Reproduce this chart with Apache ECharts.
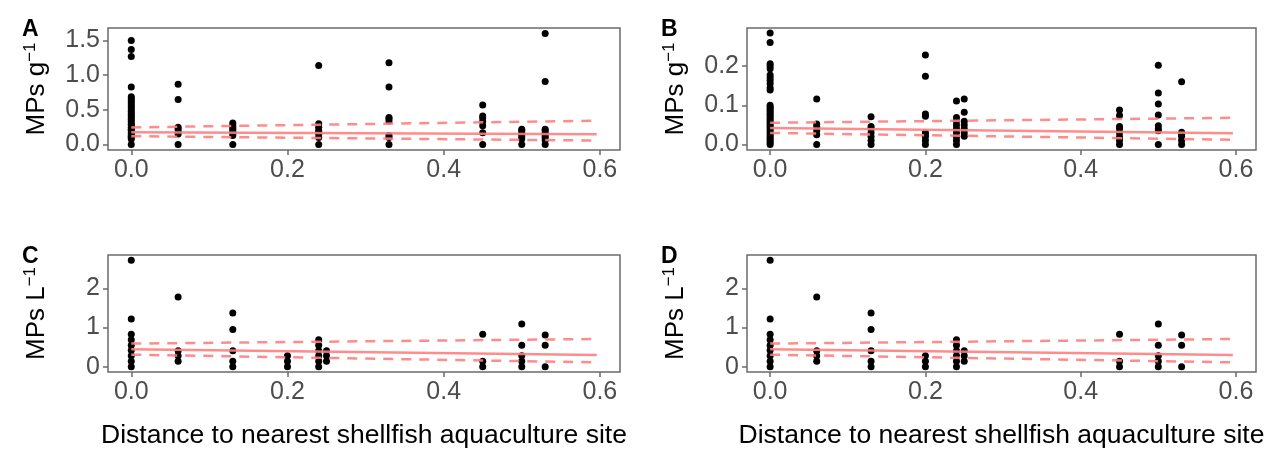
<!DOCTYPE html>
<html>
<head>
<meta charset="utf-8">
<script src="https://cdn.jsdelivr.net/npm/echarts@6/dist/echarts.min.js"></script>
<style>
  html, body { margin: 0; padding: 0; background: #fff; }
  #chart { width: 1268px; height: 450px; }
</style>
</head>
<body>
<div id="chart"></div>
<script>
// distance to nearest shellfish site (x) and tick labels
const xTicks = [0, 0.2, 0.4, 0.6]
const yTicksA = [0, 0.5, 1, 1.5]
const yTicksB = [0, 0.1, 0.2]
const yTicksC = [0, 1, 2]

const sitesA = [0, 0.06, 0.13, 0.24, 0.33, 0.45, 0.5, 0.53]
const valuesA = [
  [0, 0.08, 0.1, 0.12, 0.14, 0.17, 0.2, 0.22, 0.25, 0.28, 0.3, 0.33, 0.36, 0.39, 0.42, 0.45, 0.48, 0.51, 0.54, 0.57, 0.6, 0.63, 0.66, 0.69, 0.83, 1.27, 1.37, 1.5],
  [0, 0.15, 0.18, 0.22, 0.25, 0.65, 0.87],
  [0, 0.13, 0.16, 0.19, 0.22, 0.25, 0.28, 0.31],
  [0, 0.1, 0.15, 0.18, 0.2, 0.25, 0.3, 1.14],
  [0, 0.1, 0.13, 0.34, 0.37, 0.39, 0.83, 1.18],
  [0, 0.17, 0.27, 0.33, 0.38, 0.41, 0.57],
  [0, 0.08, 0.11, 0.14, 0.17, 0.2, 0.22],
  [0, 0.06, 0.1, 0.13, 0.17, 0.2, 0.22, 0.91, 1.6]
]

const sitesB = [0, 0.06, 0.13, 0.2, 0.24, 0.25, 0.45, 0.5, 0.53]
const valuesB = [
  [0, 0.005, 0.01, 0.015, 0.02, 0.025, 0.03, 0.035, 0.04, 0.045, 0.05, 0.055, 0.06, 0.065, 0.07, 0.075, 0.08, 0.085, 0.09, 0.095, 0.1, 0.139, 0.145, 0.155, 0.163, 0.17, 0.177, 0.193, 0.2, 0.206, 0.26, 0.284],
  [0, 0.025, 0.035, 0.045, 0.052, 0.116],
  [0, 0.01, 0.02, 0.03, 0.04, 0.046, 0.071],
  [0, 0.01, 0.02, 0.025, 0.03, 0.072, 0.078, 0.174, 0.228],
  [0, 0.01, 0.02, 0.03, 0.04, 0.05, 0.06, 0.069, 0.111],
  [0.021, 0.03, 0.04, 0.05, 0.059, 0.082, 0.116],
  [0, 0.01, 0.02, 0.03, 0.04, 0.046, 0.074, 0.088],
  [0, 0.035, 0.04, 0.048, 0.075, 0.103, 0.131, 0.202],
  [0, 0.01, 0.02, 0.025, 0.031, 0.16]
]

const sitesC = [0, 0.06, 0.13, 0.2, 0.24, 0.25, 0.45, 0.5, 0.53]
const valuesC = [
  [0, 0.14, 0.28, 0.42, 0.55, 0.69, 0.83, 1.22, 2.72],
  [0.14, 0.28, 0.41, 1.78],
  [0, 0.14, 0.41, 0.95, 1.37],
  [0, 0.14, 0.28],
  [0, 0.14, 0.28, 0.41, 0.55, 0.69],
  [0.14, 0.28, 0.41],
  [0, 0.14, 0.83],
  [0, 0.14, 0.28, 0.55, 1.09],
  [0, 0.55, 0.81]
]
// panel D shows the same water samples as C
const sitesD = sitesC
const valuesD = valuesC

// fitted line and confidence limits
const lineX = [0, 0.596]
const fitA = [0.175, 0.146], upA = [0.246, 0.343], loA = [0.119, 0.056]
const fitB = [0.042, 0.0286], upB = [0.0554, 0.068], loB = [0.0295, 0.012]
const fitC = [0.445, 0.298], upC = [0.59, 0.708], loC = [0.307, 0.11]
const fitD = fitC, upD = upC, loD = loC

const FONT = 'Liberation Sans, Arial, sans-serif'
const BORDER = '#6b6b6b'
const RED = '#ff7f7f'
const xTitle = 'Distance to nearest shellfish aquaculture site'

function points(sites, values) {
  return sites.flatMap((x, i) => values[i].map(y => [x, y]))
}
function pairs(ys) {
  return lineX.map((x, i) => [x, ys[i]])
}

const panels = [
  { tag: 'A', box: { left: 108, top: 28, width: 512, height: 122 }, yMin: -0.08, yMax: 1.68, ticks: yTicksA, dec: 1, unit: 'g', pts: points(sitesA, valuesA), fit: fitA, up: upA, lo: loA },
  { tag: 'B', box: { left: 747, top: 28, width: 509, height: 122 }, yMin: -0.014, yMax: 0.297, ticks: yTicksB, dec: 1, unit: 'g', pts: points(sitesB, valuesB), fit: fitB, up: upB, lo: loB },
  { tag: 'C', box: { left: 108, top: 255, width: 512, height: 123 }, yMin: -0.136, yMax: 2.856, ticks: yTicksC, dec: 0, unit: 'L', pts: points(sitesC, valuesC), fit: fitC, up: upC, lo: loC, xname: true },
  { tag: 'D', box: { left: 747, top: 255, width: 509, height: 123 }, yMin: -0.136, yMax: 2.856, ticks: yTicksC, dec: 0, unit: 'L', pts: points(sitesD, valuesD), fit: fitD, up: upD, lo: loD, xname: true }
]

const chart = echarts.init(document.getElementById('chart'))
const option = {
  animation: false,
  textStyle: { fontFamily: FONT },
  title: [], grid: [], xAxis: [], yAxis: [], series: []
}

panels.forEach((p, i) => {
  option.title.push({
    text: p.tag,
    left: p.box.left - 91, top: p.box.top - 15,
    textStyle: { fontSize: 23, fontWeight: 'bold', color: '#000', fontFamily: FONT }
  })
  option.grid.push(Object.assign({ show: true, borderColor: BORDER, borderWidth: 1.5, backgroundColor: '#fff' }, p.box))
  option.xAxis.push({
    gridIndex: i, type: 'value', min: -0.0298, max: 0.6258,
    name: p.xname ? xTitle : '', nameLocation: 'middle', nameGap: 50,
    nameTextStyle: { fontSize: 26.5, color: '#000', fontFamily: FONT },
    axisLine: { show: false, onZero: false },
    axisTick: { show: true, length: 5, lineStyle: { color: BORDER, width: 1.5 }, customValues: xTicks },
    axisLabel: { fontSize: 25, color: '#4d4d4d', margin: 8, customValues: xTicks, formatter: v => v.toFixed(1) },
    splitLine: { show: false }
  })
  option.yAxis.push({
    gridIndex: i, type: 'value', min: p.yMin, max: p.yMax,
    name: '{t|MPs ' + p.unit + '}{s|−1}', nameLocation: 'middle', nameRotate: 90, nameGap: 56,
    nameTextStyle: {
      rich: {
        t: { fontSize: 26, color: '#000', fontFamily: FONT, lineHeight: 30 },
        s: { fontSize: 17, color: '#000', fontFamily: FONT, lineHeight: 30, verticalAlign: 'top' }
      }
    },
    axisLine: { show: false, onZero: false },
    axisTick: { show: true, length: 5, lineStyle: { color: BORDER, width: 1.5 }, customValues: p.ticks },
    axisLabel: { fontSize: 25, color: '#4d4d4d', margin: 8, customValues: p.ticks, formatter: v => v.toFixed(p.dec) },
    splitLine: { show: false }
  })
  option.series.push({
    type: 'scatter', xAxisIndex: i, yAxisIndex: i, data: p.pts,
    symbolSize: 7, itemStyle: { color: '#000', opacity: 1 }, z: 2
  })
  const lines = [[p.fit, 'solid'], [p.up, [10, 8]], [p.lo, [10, 8]]]
  lines.forEach(([ys, type]) => {
    option.series.push({
      type: 'line', xAxisIndex: i, yAxisIndex: i, data: pairs(ys),
      showSymbol: false, symbol: 'none', silent: true, z: 3,
      lineStyle: { color: RED, width: 2.5, type: type, opacity: 0.9 }
    })
  })
})

chart.setOption(option)
</script>
</body>
</html>
